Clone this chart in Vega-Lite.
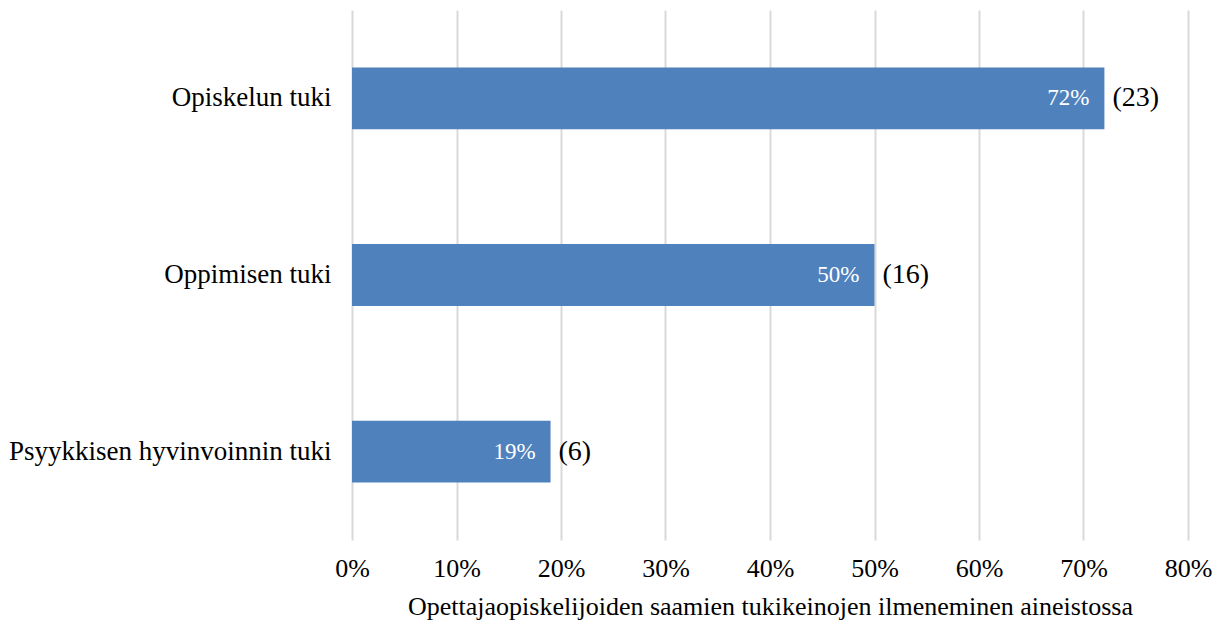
{
  "$schema": "https://vega.github.io/schema/vega-lite/v6.json",
  "autosize": {"type": "none"},
  "width": 836,
  "height": 530,
  "padding": {"left": 352, "top": 10, "right": 34, "bottom": 88},
  "background": "white",
  "config": {
    "view": {"stroke": null},
    "font": "Liberation Serif"
  },
  "data": {
    "values": [
      {"tuki": "Opiskelun tuki", "osuus": 0.72, "n": 23, "label": "72%", "nlabel": "(23)"},
      {"tuki": "Oppimisen tuki", "osuus": 0.50, "n": 16, "label": "50%", "nlabel": "(16)"},
      {"tuki": "Psyykkisen hyvinvoinnin tuki", "osuus": 0.19, "n": 6, "label": "19%", "nlabel": "(6)"}
    ]
  },
  "encoding": {
    "y": {
      "field": "tuki",
      "type": "nominal",
      "sort": null,
      "scale": {"paddingInner": 0.65, "paddingOuter": 0.325},
      "axis": {
        "title": null,
        "ticks": false,
        "domain": false,
        "labelFont": "Liberation Serif",
        "labelFontSize": 27,
        "labelColor": "#000000",
        "labelPadding": 21,
        "labelLimit": 400
      }
    },
    "x": {
      "field": "osuus",
      "type": "quantitative",
      "scale": {"domain": [0, 0.8], "nice": false},
      "axis": {
        "format": ".0%",
        "values": [0, 0.1, 0.2, 0.3, 0.4, 0.5, 0.6, 0.7, 0.8],
        "title": "Opettajaopiskelijoiden  saamien  tukikeinojen  ilmeneminen  aineistossa",
        "titleFont": "Liberation Serif",
        "titleFontSize": 26,
        "titleFontWeight": "normal",
        "titleColor": "#000000",
        "titlePadding": 12,
        "labelFont": "Liberation Serif",
        "labelFontSize": 26,
        "labelColor": "#000000",
        "labelPadding": 15,
        "labelFlush": false,
        "ticks": false,
        "domain": false,
        "grid": true,
        "gridColor": "#d9d9d9",
        "gridWidth": 2
      }
    }
  },
  "layer": [
    {"mark": {"type": "bar", "color": "#4F81BD"}},
    {
      "mark": {"type": "text", "align": "right", "dx": -15, "color": "#ffffff", "fontSize": 23, "font": "Liberation Serif"},
      "encoding": {"text": {"field": "label"}}
    },
    {
      "mark": {"type": "text", "align": "left", "dx": 8, "color": "#000000", "fontSize": 28, "font": "Liberation Serif"},
      "encoding": {"text": {"field": "nlabel"}}
    }
  ]
}
